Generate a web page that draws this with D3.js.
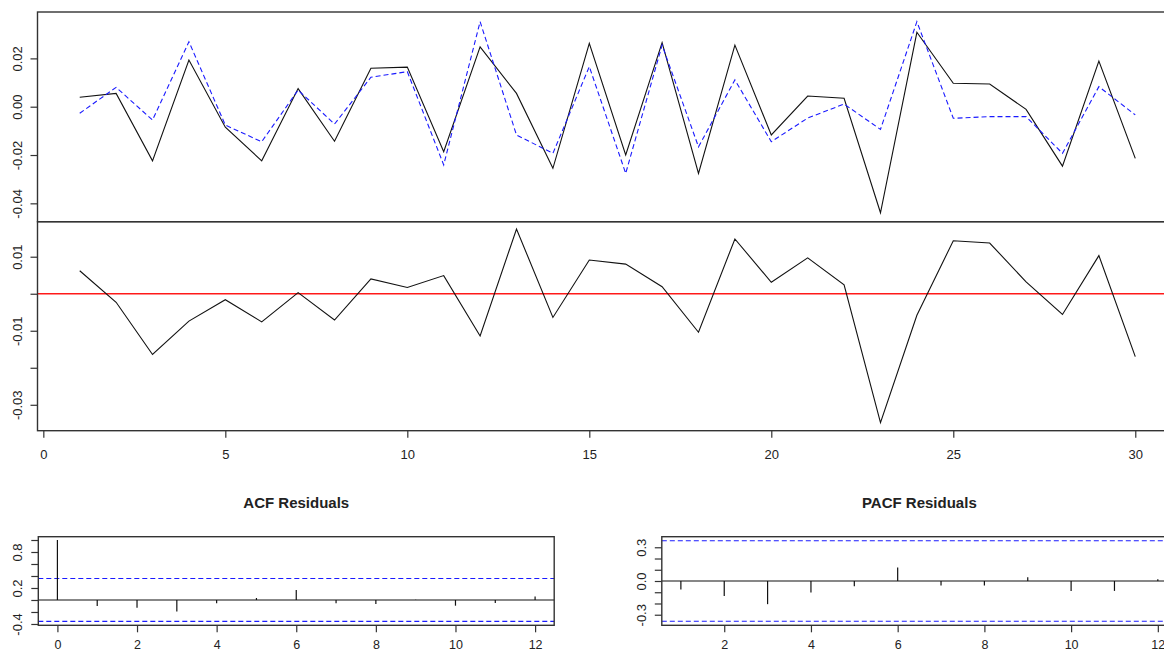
<!DOCTYPE html>
<html>
<head>
<meta charset="utf-8">
<script src="https://cdn.jsdelivr.net/npm/d3@7"></script>
<style>
  html, body { margin: 0; padding: 0; background: #fff; }
  svg { display: block; font-family: "Liberation Sans", Arial, sans-serif; }
  text { fill: #222; }
</style>
</head>
<body>
<svg id="chart" width="1164" height="653"></svg>
<script>
// ---------- DATA ----------
const timeIndex = [1,2,3,4,5,6,7,8,9,10,11,12,13,14,15,16,17,18,19,20,21,22,23,24,25,26,27,28,29,30];
const actualSeries = [0.0039, 0.0055, -0.0224, 0.0193, -0.0085, -0.0224, 0.0075, -0.0143, 0.0159, 0.0164,
                      -0.0186, 0.0248, 0.0055, -0.0255, 0.0262, -0.0200, 0.0265, -0.0276, 0.0255, -0.0117,
                      0.0044, 0.0035, -0.0439, 0.0308, 0.0097, 0.0094, -0.0011, -0.0246, 0.0189, -0.0214];
const fittedSeries = [-0.0027, 0.0080, -0.0055, 0.0269, -0.0076, -0.0145, 0.0069, -0.0072, 0.0122, 0.0145,
                      -0.0241, 0.0352, -0.0117, -0.0193, 0.0166, -0.0276, 0.0255, -0.0166, 0.0111, -0.0145,
                      -0.0047, 0.0011, -0.0094, 0.0352, -0.0048, -0.0041, -0.0041, -0.0193, 0.0083, -0.0034];
const residualSeries = [0.0062, -0.0023, -0.0164, -0.0074, -0.0016, -0.0076, 0.0003, -0.0071, 0.0040, 0.0017,
                        0.0049, -0.0114, 0.0175, -0.0064, 0.0091, 0.0080, 0.0019, -0.0104, 0.0148, 0.0031,
                        0.0097, 0.0024, -0.0348, -0.0058, 0.0143, 0.0137, 0.0032, -0.0056, 0.0103, -0.0170];
const acfLags = [0,1,2,3,4,5,6,7,8,9,10,11,12];
const acfValues = [1.0, -0.100, -0.128, -0.190, -0.055, 0.033, 0.167, -0.055, -0.067, 0.004, -0.095, -0.050, 0.060];
const pacfLags = [1,2,3,4,5,6,7,8,9,10,11,12];
const pacfValues = [-0.076, -0.133, -0.206, -0.103, -0.047, 0.119, -0.041, -0.041, 0.033, -0.088, -0.088, 0.015];
const confBound = 0.358;

const tsXTicks = [0,5,10,15,20,25,30];
const topYTicks = [0.02, 0.00, -0.02, -0.04];
const topYLabels = ["0.02", "0.00", "-0.02", "-0.04"];
const resYTicks = [0.01, 0.00, -0.01, -0.02, -0.03];
const resYLabels = ["0.01", "", "-0.01", "", "-0.03"];
const acfXTicks = [0,2,4,6,8,10,12];
const acfYTicks = [-0.4,-0.2,0,0.2,0.4,0.6,0.8,1.0];
const acfYLabels = ["-0.4","","","0.2","","","0.8",""];
const pacfXTicks = [2,4,6,8,10,12];
const pacfYTicks = [-0.3,-0.2,-0.1,0,0.1,0.2,0.3];
const pacfYLabels = ["-0.3","","","0.0","","","0.3"];
const acfTitle = "ACF Residuals";
const pacfTitle = "PACF Residuals";

// ---------- DRAW ----------
const svg = d3.select("#chart");
const BOX = "#333";
const FS = 13;

const xTs = d3.scaleLinear().domain([-0.16, 31.16]).range([37.5, 1177.5]);
const yTop = d3.scaleLinear().domain([-0.0476, 0.0392]).range([221.7, 12]);
const yRes = d3.scaleLinear().domain([-0.037, 0.01946]).range([430.7, 221.7]);
const xAcf = d3.scaleLinear().domain([-0.48, 12.48]).range([38.3, 554.2]);
const yAcf = d3.scaleLinear().domain([-0.422, 1.055]).range([625.3, 536.7]);
const xPacf = d3.scaleLinear().domain([0.56, 12.44]).range([661.8, 1176.9]);
const yPacf = d3.scaleLinear().domain([-0.394, 0.394]).range([625.3, 536.7]);

function box(x, y) {
  const [x0, x1] = x.range(); const [y0, y1] = y.range();
  svg.append("rect")
    .attr("x", Math.min(x0, x1)).attr("y", Math.min(y0, y1))
    .attr("width", Math.abs(x1 - x0)).attr("height", Math.abs(y1 - y0))
    .attr("fill", "none").attr("stroke", BOX).attr("stroke-width", 1.4);
}

function yAxis(x, y, ticks, labels) {
  const g = svg.append("g").attr("transform", `translate(${x.range()[0]},0)`)
    .call(d3.axisLeft(y).tickValues(ticks).tickSize(7).tickFormat((d, i) => labels[i]));
  g.select(".domain").remove();
  g.selectAll("line").attr("stroke", BOX).attr("stroke-width", 1.2);
  g.selectAll("text")
    .attr("transform", "rotate(-90)")
    .attr("x", 0).attr("y", -16).attr("dy", 0)
    .attr("text-anchor", "middle")
    .style("font-size", FS + "px").attr("fill", "#222");
}

function xAxis(x, y, ticks, pad, fs) {
  const g = svg.append("g").attr("transform", `translate(0,${y.range()[0]})`)
    .call(d3.axisBottom(x).tickValues(ticks).tickSize(7).tickPadding(pad).tickFormat(d3.format("d")));
  g.select(".domain").remove();
  g.selectAll("line").attr("stroke", BOX).attr("stroke-width", 1.2);
  g.selectAll("text").style("font-size", fs + "px").attr("fill", "#222");
}

// --- top panel: actual vs fitted ---
const lineTop = d3.line().x((d, i) => xTs(timeIndex[i])).y(d => yTop(d));
svg.append("path").datum(actualSeries).attr("d", lineTop)
  .attr("fill", "none").attr("stroke", "#111").attr("stroke-width", 1.1);
svg.append("path").datum(fittedSeries).attr("d", lineTop)
  .attr("fill", "none").attr("stroke", "#1a1aff").attr("stroke-width", 1.1)
  .attr("stroke-dasharray", "5,3");
box(xTs, yTop);
yAxis(xTs, yTop, topYTicks, topYLabels);

// --- bottom panel: residuals ---
svg.append("line")
  .attr("x1", xTs.range()[0]).attr("x2", xTs.range()[1])
  .attr("y1", yRes(0)).attr("y2", yRes(0))
  .attr("stroke", "#ff1a1a").attr("stroke-width", 1.4);
const lineRes = d3.line().x((d, i) => xTs(timeIndex[i])).y(d => yRes(d));
svg.append("path").datum(residualSeries).attr("d", lineRes)
  .attr("fill", "none").attr("stroke", "#111").attr("stroke-width", 1.1);
box(xTs, yRes);
yAxis(xTs, yRes, resYTicks, resYLabels);
xAxis(xTs, yRes, tsXTicks, 12, FS);

// --- correlogram helper ---
function correlogram(x, y, lags, vals, xt, yt, ylab, title) {
  svg.append("line")
    .attr("x1", x.range()[0]).attr("x2", x.range()[1])
    .attr("y1", y(0)).attr("y2", y(0))
    .attr("stroke", "#111").attr("stroke-width", 1.2);
  [confBound, -confBound].forEach(c => {
    svg.append("line")
      .attr("x1", x.range()[0]).attr("x2", x.range()[1])
      .attr("y1", y(c)).attr("y2", y(c))
      .attr("stroke", "#1a1aff").attr("stroke-width", 1.2)
      .attr("stroke-dasharray", "5,3");
  });
  svg.append("g").selectAll("line").data(vals).join("line")
    .attr("x1", (d, i) => x(lags[i])).attr("x2", (d, i) => x(lags[i]))
    .attr("y1", y(0)).attr("y2", d => y(d))
    .attr("stroke", "#111").attr("stroke-width", 1.2);
  box(x, y);
  yAxis(x, y, yt, ylab);
  xAxis(x, y, xt, 8, 12.5);
  svg.append("text")
    .attr("x", (x.range()[0] + x.range()[1]) / 2).attr("y", 508)
    .attr("text-anchor", "middle")
    .style("font-size", "15px").style("font-weight", "bold")
    .attr("fill", "#111")
    .text(title);
}

correlogram(xAcf, yAcf, acfLags, acfValues, acfXTicks, acfYTicks, acfYLabels, acfTitle);
correlogram(xPacf, yPacf, pacfLags, pacfValues, pacfXTicks, pacfYTicks, pacfYLabels, pacfTitle);
</script>
</body>
</html>
